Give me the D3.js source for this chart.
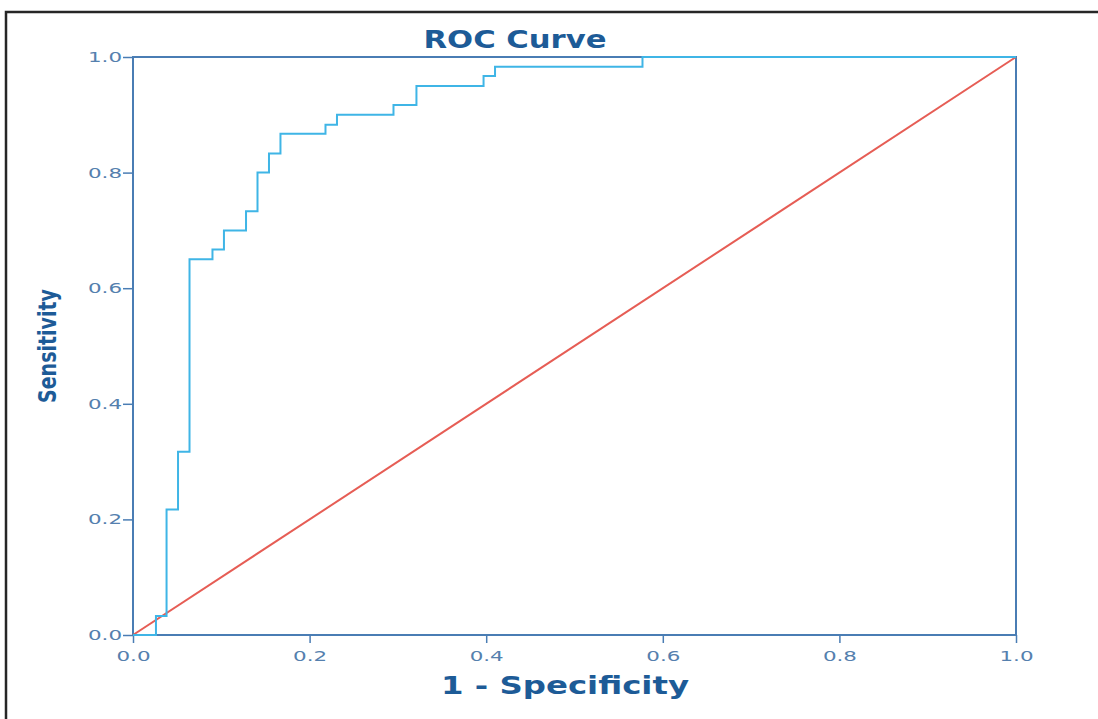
<!DOCTYPE html>
<html>
<head>
<meta charset="utf-8">
<script src="https://cdnjs.cloudflare.com/ajax/libs/d3/7.8.5/d3.min.js"></script>
<style>
  body { margin: 0; background: #fff; }
  svg { display: block; }
</style>
</head>
<body>
<div class="chart"></div>
<script>
// ROC curve: 1 - specificity and sensitivity at each step
var falsePosRate = [0, 0.026, 0.038, 0.051, 0.064, 0.09, 0.103, 0.128, 0.141, 0.154, 0.167, 0.218, 0.231, 0.295, 0.321, 0.397, 0.41, 0.577, 1.0];
var sensitivity  = [0, 0.033, 0.217, 0.317, 0.65, 0.667, 0.70, 0.733, 0.80, 0.833, 0.867, 0.883, 0.90, 0.917, 0.95, 0.967, 0.983, 1.0, 1.0];
// reference line (chance)
var refX = [0, 1];
var refY = [0, 1];
var tickValues = [0, 0.2, 0.4, 0.6, 0.8, 1.0];

var labelTitle = 'ROC Curve';
var labelX = '1 - Specificity';
var labelY = 'Sensitivity';

var values = {
  width: 1098,
  height: 719,
  left: 133,
  right: 1016,
  top: 57,
  bottom: 635
};

var axisColor = '#4a7db4';
var textColor = '#1d5b97';
var tickColor = '#5580ae';

var x = d3.scaleLinear().domain([0, 1]).range([values.left, values.right]);
var y = d3.scaleLinear().domain([0, 1]).range([values.bottom, values.top]);

var svg = d3.select('.chart')
  .append('svg')
  .attr('width', values.width)
  .attr('height', values.height);

svg.append('rect')
  .attr('width', values.width)
  .attr('height', values.height)
  .attr('fill', '#fff');

// black frame of the scanned figure (top and left only)
svg.append('path')
  .attr('d', 'M6,' + values.height + 'V12H' + values.width)
  .attr('fill', 'none')
  .attr('stroke', '#262626')
  .attr('stroke-width', 2.5);

// plot box
svg.append('rect')
  .attr('x', x(0))
  .attr('y', y(1))
  .attr('width', x(1) - x(0))
  .attr('height', y(0) - y(1))
  .attr('fill', 'none')
  .attr('stroke', axisColor)
  .attr('stroke-width', 2);

var fmt = d3.format('.1f');

var xAxis = d3.axisBottom(x).tickValues(tickValues).tickFormat(fmt).tickSize(8).tickPadding(8);
var yAxis = d3.axisLeft(y).tickValues(tickValues).tickFormat(fmt).tickSize(10).tickPadding(1);

var gx = svg.append('g')
  .attr('transform', 'translate(0,' + values.bottom + ')')
  .call(xAxis);

var gy = svg.append('g')
  .attr('transform', 'translate(' + values.left + ',0)')
  .call(yAxis);

[gx, gy].forEach(function (g) {
  g.select('.domain').remove();
  g.selectAll('line').attr('stroke', axisColor).attr('stroke-width', 1.5);
  g.selectAll('text')
    .attr('fill', tickColor)
    .attr('textLength', 34)
    .attr('lengthAdjust', 'spacingAndGlyphs')
    .style('font-family', 'DejaVu Sans, sans-serif')
    .style('font-size', '14px');
});

// chance diagonal
var line = d3.line()
  .x(function (d) { return x(d[0]); })
  .y(function (d) { return y(d[1]); });

svg.append('path')
  .datum(d3.zip(refX, refY))
  .attr('d', line)
  .attr('fill', 'none')
  .attr('stroke', '#e65d55')
  .attr('stroke-width', 2);

// ROC step curve
var stepLine = d3.line()
  .x(function (d) { return x(d[0]); })
  .y(function (d) { return y(d[1]); })
  .curve(d3.curveStepAfter);

svg.append('path')
  .datum(d3.zip(falsePosRate, sensitivity))
  .attr('d', stepLine)
  .attr('fill', 'none')
  .attr('stroke', '#3fb5e6')
  .attr('stroke-width', 2);

// title
svg.append('text')
  .attr('x', 515)
  .attr('y', 48)
  .attr('text-anchor', 'middle')
  .attr('fill', textColor)
  .attr('textLength', 183)
  .attr('lengthAdjust', 'spacingAndGlyphs')
  .style('font-family', 'DejaVu Sans, sans-serif')
  .style('font-weight', 'bold')
  .style('font-size', '24px')
  .text(labelTitle);

// x label
svg.append('text')
  .attr('x', 565)
  .attr('y', 694)
  .attr('text-anchor', 'middle')
  .attr('fill', textColor)
  .attr('textLength', 248)
  .attr('lengthAdjust', 'spacingAndGlyphs')
  .style('font-family', 'DejaVu Sans, sans-serif')
  .style('font-weight', 'bold')
  .style('font-size', '24px')
  .text(labelX);

// y label, condensed
svg.append('text')
  .attr('transform', 'translate(56,' + ((values.top + values.bottom) / 2) + ') rotate(-90)')
  .attr('text-anchor', 'middle')
  .attr('fill', textColor)
  .attr('textLength', 114)
  .attr('lengthAdjust', 'spacingAndGlyphs')
  .style('font-family', 'DejaVu Sans, sans-serif')
  .style('font-weight', 'bold')
  .style('font-size', '24px')
  .text(labelY);
</script>
</body>
</html>
